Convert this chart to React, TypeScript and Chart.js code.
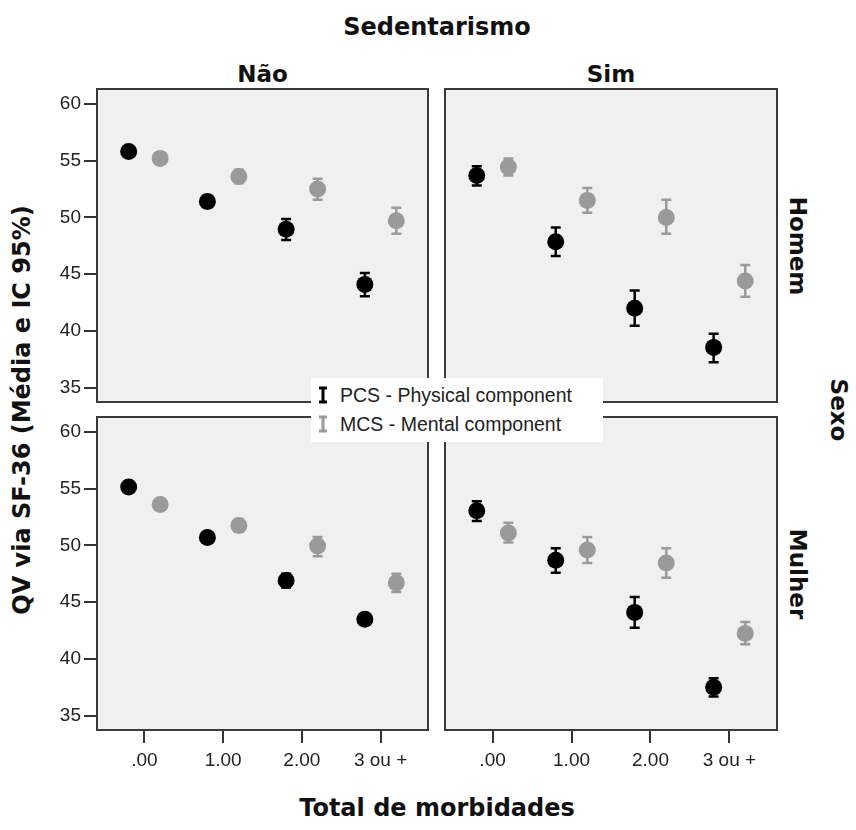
import React, { useEffect, useRef } from 'react';
import { Chart, registerables } from 'chart.js';

Chart.register(...registerables);

// ---------- data ----------
const categories = ['.00', '1.00', '2.00', '3 ou +'];
const sedentarismoLevels = ['Não', 'Sim'];
const sexoLevels = ['Homem', 'Mulher'];
const seriesLabels = ['PCS - Physical component', 'MCS - Mental component'];
const yTicks = [35, 40, 45, 50, 55, 60];

// Não / Homem
const naoHomemPcsMean = [55.8, 51.4, 48.95, 44.1];
const naoHomemPcsLower = [55.4, 50.9, 48.0, 43.05];
const naoHomemPcsUpper = [56.2, 51.9, 49.85, 45.1];
const naoHomemMcsMean = [55.2, 53.6, 52.5, 49.7];
const naoHomemMcsLower = [54.8, 53.0, 51.55, 48.55];
const naoHomemMcsUpper = [55.6, 54.2, 53.4, 50.85];

// Sim / Homem
const simHomemPcsMean = [53.7, 47.85, 42.0, 38.55];
const simHomemPcsLower = [52.8, 46.6, 40.45, 37.25];
const simHomemPcsUpper = [54.5, 49.1, 43.55, 39.75];
const simHomemMcsMean = [54.45, 51.5, 50.0, 44.4];
const simHomemMcsLower = [53.7, 50.4, 48.55, 43.0];
const simHomemMcsUpper = [55.2, 52.6, 51.55, 45.8];

// Não / Mulher
const naoMulherPcsMean = [55.15, 50.7, 46.9, 43.5];
const naoMulherPcsLower = [54.75, 50.3, 46.3, 43.1];
const naoMulherPcsUpper = [55.55, 51.1, 47.5, 43.9];
const naoMulherMcsMean = [53.6, 51.75, 49.95, 46.7];
const naoMulherMcsLower = [53.2, 51.2, 49.05, 45.9];
const naoMulherMcsUpper = [54.0, 52.3, 50.75, 47.5];

// Sim / Mulher
const simMulherPcsMean = [53.05, 48.7, 44.1, 37.5];
const simMulherPcsLower = [52.15, 47.6, 42.75, 36.7];
const simMulherPcsUpper = [53.9, 49.75, 45.45, 38.3];
const simMulherMcsMean = [51.1, 49.6, 48.45, 42.25];
const simMulherMcsLower = [50.25, 48.45, 47.15, 41.3];
const simMulherMcsUpper = [52.0, 50.75, 49.75, 43.25];

// ---------- layout / style ----------
const PANEL_L = [96, 444];
const PANEL_R = [429, 778];
const PANEL_T = [88, 416];
const PANEL_B = [403, 731];
const AXW = 60;
const AXH = 60;
const DODGE = 0.2;
const X_MIN = -0.615;
const X_MAX = 3.615;
const Y_MIN = 33.65;
const Y_MAX = 61.4;
const PCS_COLOR = '#000000';
const MCS_COLOR = '#9a9a9a';
const BOLD_FONT = '"DejaVu Sans", Verdana, sans-serif';
const TICK_FONT = '"Liberation Sans", Arial, sans-serif';

const panels = [
  { col: 0, row: 0, pcs: [naoHomemPcsMean, naoHomemPcsLower, naoHomemPcsUpper], mcs: [naoHomemMcsMean, naoHomemMcsLower, naoHomemMcsUpper] },
  { col: 1, row: 0, pcs: [simHomemPcsMean, simHomemPcsLower, simHomemPcsUpper], mcs: [simHomemMcsMean, simHomemMcsLower, simHomemMcsUpper] },
  { col: 0, row: 1, pcs: [naoMulherPcsMean, naoMulherPcsLower, naoMulherPcsUpper], mcs: [naoMulherMcsMean, naoMulherMcsLower, naoMulherMcsUpper] },
  { col: 1, row: 1, pcs: [simMulherPcsMean, simMulherPcsLower, simMulherPcsUpper], mcs: [simMulherMcsMean, simMulherMcsLower, simMulherMcsUpper] },
];

const panelPlugin = {
  id: 'panelBox',
  beforeDraw(chart: any) {
    const { ctx, chartArea: a } = chart;
    ctx.save();
    ctx.fillStyle = '#f0f0f0';
    ctx.fillRect(a.left, a.top, a.right - a.left, a.bottom - a.top);
    ctx.restore();
  },
  afterDraw(chart: any) {
    const { ctx, chartArea: a } = chart;
    ctx.save();
    ctx.strokeStyle = '#3a3a3a';
    ctx.lineWidth = 2;
    ctx.strokeRect(a.left + 1, a.top + 1, a.right - a.left - 2, a.bottom - a.top - 2);
    ctx.restore();
  },
};

const errorBarPlugin = {
  id: 'errorBars',
  beforeDatasetsDraw(chart: any) {
    const ctx = chart.ctx;
    const xs = chart.scales.x;
    const ys = chart.scales.y;
    chart.data.datasets.forEach((ds: any) => {
      ctx.save();
      ctx.strokeStyle = ds.errorColor;
      ctx.lineWidth = 2.5;
      ds.data.forEach((p: any, i: number) => {
        const x = xs.getPixelForValue(p.x);
        const y1 = ys.getPixelForValue(ds.lower[i]);
        const y2 = ys.getPixelForValue(ds.upper[i]);
        ctx.beginPath();
        ctx.moveTo(x, y1);
        ctx.lineTo(x, y2);
        ctx.moveTo(x - 5, y1);
        ctx.lineTo(x + 5, y1);
        ctx.moveTo(x - 5, y2);
        ctx.lineTo(x + 5, y2);
        ctx.stroke();
      });
      ctx.restore();
    });
  },
};

function makeConfig(p: any): any {
  const showX = p.row === 1;
  const showY = p.col === 0;
  const mk = (series: number[][], label: string, color: string, offset: number) => ({
    label,
    data: categories.map((_, i) => ({ x: i + offset, y: series[0][i] })),
    lower: series[1],
    upper: series[2],
    errorColor: color,
    backgroundColor: color,
    borderColor: color,
    borderWidth: 0,
    pointRadius: 8.5,
    pointHoverRadius: 8.5,
    showLine: false,
    clip: false,
  });
  const grid = {
    display: true,
    drawOnChartArea: false,
    drawTicks: true,
    tickLength: 12,
    tickColor: '#333333',
    lineWidth: 2,
  };
  return {
    type: 'scatter',
    data: {
      datasets: [
        mk(p.pcs, seriesLabels[0], PCS_COLOR, -DODGE),
        mk(p.mcs, seriesLabels[1], MCS_COLOR, DODGE),
      ],
    },
    options: {
      responsive: false,
      animation: false,
      devicePixelRatio: 1,
      events: [],
      layout: { padding: 0, autoPadding: false },
      plugins: { legend: { display: false }, tooltip: { enabled: false }, title: { display: false } },
      scales: {
        x: {
          type: 'linear',
          display: showX,
          min: X_MIN,
          max: X_MAX,
          afterBuildTicks: (s: any) => {
            s.ticks = categories.map((_, i) => ({ value: i }));
          },
          afterFit: (s: any) => {
            if (!showX) return;
            s.height = AXH;
            s.paddingLeft = 0;
            s.paddingRight = 0;
            s.paddingTop = 0;
            s.paddingBottom = 0;
          },
          ticks: {
            callback: (v: number) => categories[Math.round(v)],
            font: { family: TICK_FONT, size: 19 },
            color: '#222222',
            padding: 6,
            maxRotation: 0,
            autoSkip: false,
          },
          grid,
          border: { display: false },
        },
        y: {
          type: 'linear',
          display: showY,
          min: Y_MIN,
          max: Y_MAX,
          afterBuildTicks: (s: any) => {
            s.ticks = yTicks.map((v) => ({ value: v }));
          },
          afterFit: (s: any) => {
            if (!showY) return;
            s.width = AXW;
            s.paddingLeft = 0;
            s.paddingRight = 0;
            s.paddingTop = 0;
            s.paddingBottom = 0;
          },
          ticks: {
            callback: (v: number) => String(v),
            font: { family: TICK_FONT, size: 19 },
            color: '#222222',
            padding: 3,
            autoSkip: false,
          },
          grid,
          border: { display: false },
        },
      },
    },
    plugins: [panelPlugin, errorBarPlugin],
  };
}

function canvasRect(p: any) {
  const showX = p.row === 1;
  const showY = p.col === 0;
  const l = PANEL_L[p.col] - (showY ? AXW : 0);
  const t = PANEL_T[p.row];
  const w = PANEL_R[p.col] - PANEL_L[p.col] + (showY ? AXW : 0);
  const h = PANEL_B[p.row] - PANEL_T[p.row] + (showX ? AXH : 0);
  return { l, t, w, h };
}

const ErrIcon = ({ color }: { color: string }) => (
  <svg width={12} height={18} style={{ position: 'absolute', left: 0, top: 0 }}>
    <line x1={6} y1={2} x2={6} y2={16} stroke={color} strokeWidth={3} />
    <line x1={2} y1={2} x2={10} y2={2} stroke={color} strokeWidth={3} />
    <line x1={2} y1={16} x2={10} y2={16} stroke={color} strokeWidth={3} />
  </svg>
);

export default function App() {
  const refs = [useRef<HTMLCanvasElement>(null), useRef<HTMLCanvasElement>(null), useRef<HTMLCanvasElement>(null), useRef<HTMLCanvasElement>(null)];

  useEffect(() => {
    const charts = panels.map((p, i) => new Chart(refs[i].current as HTMLCanvasElement, makeConfig(p)));
    return () => charts.forEach((c) => c.destroy());
  }, []);

  const boldText = (text: string, cx: number, cy: number, size: number, rot = 0) => (
    <div
      key={text}
      style={{
        position: 'absolute',
        left: cx,
        top: cy,
        transform: `translate(-50%, -50%) rotate(${rot}deg)`,
        fontFamily: BOLD_FONT,
        fontWeight: 'bold',
        fontSize: size,
        lineHeight: 1,
        whiteSpace: 'nowrap',
        color: '#111',
      }}
    >
      {text}
    </div>
  );

  return (
    <div style={{ position: 'absolute', left: 0, top: 0, width: 856, height: 830, background: '#fff', overflow: 'hidden' }}>
      {panels.map((p, i) => {
        const r = canvasRect(p);
        return (
          <canvas
            key={i}
            ref={refs[i]}
            width={r.w}
            height={r.h}
            style={{ position: 'absolute', left: r.l, top: r.t, width: r.w, height: r.h }}
          />
        );
      })}
      {boldText('Sedentarismo', 437, 27, 24)}
      {boldText(sedentarismoLevels[0], (PANEL_L[0] + PANEL_R[0]) / 2, 74, 23)}
      {boldText(sedentarismoLevels[1], (PANEL_L[1] + PANEL_R[1]) / 2, 74, 23)}
      {boldText(sexoLevels[0], 797, (PANEL_T[0] + PANEL_B[0]) / 2, 23, 90)}
      {boldText(sexoLevels[1], 797, (PANEL_T[1] + PANEL_B[1]) / 2, 23, 90)}
      {boldText('Sexo', 838, 410, 23, 90)}
      {boldText('QV via SF-36 (Média e IC 95%)', 22, 410, 24, -90)}
      {boldText('Total de morbidades', 437, 808, 24)}
      <div
        style={{
          position: 'absolute',
          left: 311,
          top: 378,
          width: 292,
          height: 64,
          background: '#ffffff',
          zIndex: 2,
          fontFamily: TICK_FONT,
          fontSize: 19.5,
          color: '#222',
        }}
      >
        {seriesLabels.map((lab, i) => (
          <div key={lab} style={{ position: 'absolute', left: 6, top: 6 + i * 29, height: 22, whiteSpace: 'nowrap' }}>
            <div style={{ position: 'absolute', left: 0, top: 2, width: 12, height: 18 }}>
              <ErrIcon color={i === 0 ? PCS_COLOR : MCS_COLOR} />
            </div>
            <span style={{ position: 'absolute', left: 23, top: 0, lineHeight: '22px' }}>{lab}</span>
          </div>
        ))}
      </div>
    </div>
  );
}
